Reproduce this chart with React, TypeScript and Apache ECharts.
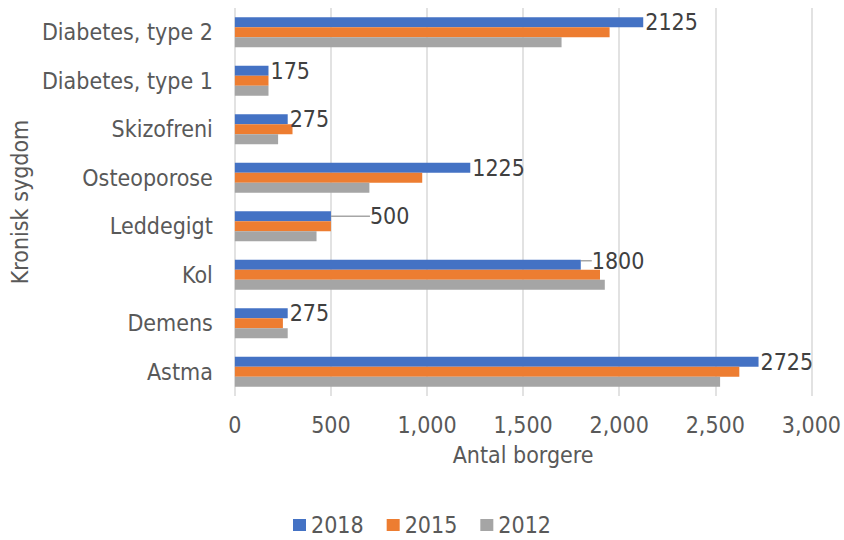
import React, { useEffect, useRef } from "react";
import * as echarts from "echarts";

const categories = [
  "Astma",
  "Demens",
  "Kol",
  "Leddegigt",
  "Osteoporose",
  "Skizofreni",
  "Diabetes, type 1",
  "Diabetes, type 2",
];
const seriesNames = ["2018", "2015", "2012"];
const values2018 = [2725, 275, 1800, 500, 1225, 275, 175, 2125];
const values2015 = [2625, 250, 1900, 500, 975, 300, 175, 1950];
const values2012 = [2525, 275, 1925, 425, 700, 225, 175, 1700];
const colors = ["#4472C4", "#ED7D31", "#A5A5A5"];
const xTicks = [0, 500, 1000, 1500, 2000, 2500, 3000];

const FONT = "'DejaVu Sans Condensed', 'Liberation Sans Narrow', 'DejaVu Sans', sans-serif";
const FS = 23;

export default function App() {
  const ref = useRef<HTMLDivElement>(null);
  useEffect(() => {
    document.body.style.margin = "0";
    const chart = echarts.init(ref.current!, null, { renderer: "svg" });
    const movedLabels: Record<number, [number, number]> = {
      3: [37, 0],
      2: [9, -4],
    };
    const data2018 = values2018.map((v, i) =>
      movedLabels[i]
        ? { value: v, labelLine: { show: true, lineStyle: { color: "#a6a6a6", width: 1.5 } } }
        : v
    );
    chart.setOption({
      animation: false,
      textStyle: { fontFamily: FONT },
      color: colors,
      grid: { left: 232, right: 32, top: 8, bottom: 144, containLabel: false },
      legend: {
        data: seriesNames,
        top: 513,
        left: "center",
        icon: "rect",
        itemWidth: 13,
        itemHeight: 12,
        itemGap: 23,
        padding: 0,
        textStyle: { fontFamily: FONT, fontSize: FS, lineHeight: 24, color: "#595959" },
      },
      xAxis: {
        type: "value",
        min: xTicks[0],
        max: xTicks[xTicks.length - 1],
        interval: 500,
        name: "Antal borgere",
        nameLocation: "middle",
        nameGap: 47,
        nameTextStyle: { fontFamily: FONT, fontSize: FS, color: "#595959" },
        axisLine: { show: false },
        axisTick: { show: false },
        axisLabel: {
          fontFamily: FONT,
          fontSize: FS,
          color: "#595959",
          margin: 17,
          formatter: (v: number) => v.toLocaleString("en-US"),
        },
        splitLine: { show: true, lineStyle: { color: "#d9d9d9", width: 1.5 } },
      },
      yAxis: {
        type: "category",
        data: categories,
        name: "Kronisk sygdom",
        nameLocation: "middle",
        nameGap: 200,
        nameTextStyle: { fontFamily: FONT, fontSize: FS, color: "#595959" },
        axisLine: { show: false },
        axisTick: { show: false },
        axisLabel: { fontFamily: FONT, fontSize: FS, color: "#595959", margin: 22 },
      },
      series: [
        {
          name: seriesNames[0],
          type: "bar",
          data: data2018,
          barWidth: 10,
          barGap: "0%",
          barCategoryGap: "38%",
          label: {
            show: true,
            position: "right",
            distance: 2,
            fontFamily: FONT,
            fontSize: FS,
            color: "#404040",
          },
          labelLayout: (params: any) => {
            const m = movedLabels[params.dataIndex];
            if (m) return { dx: m[0], dy: m[1] };
            return {};
          },
        },
        {
          name: seriesNames[1],
          type: "bar",
          data: values2015,
          barWidth: 10,
          barGap: "0%",
        },
        {
          name: seriesNames[2],
          type: "bar",
          data: values2012,
          barWidth: 10,
          barGap: "0%",
        },
      ],
    });
    return () => chart.dispose();
  }, []);
  return <div ref={ref} style={{ width: 844, height: 540 }} />;
}
